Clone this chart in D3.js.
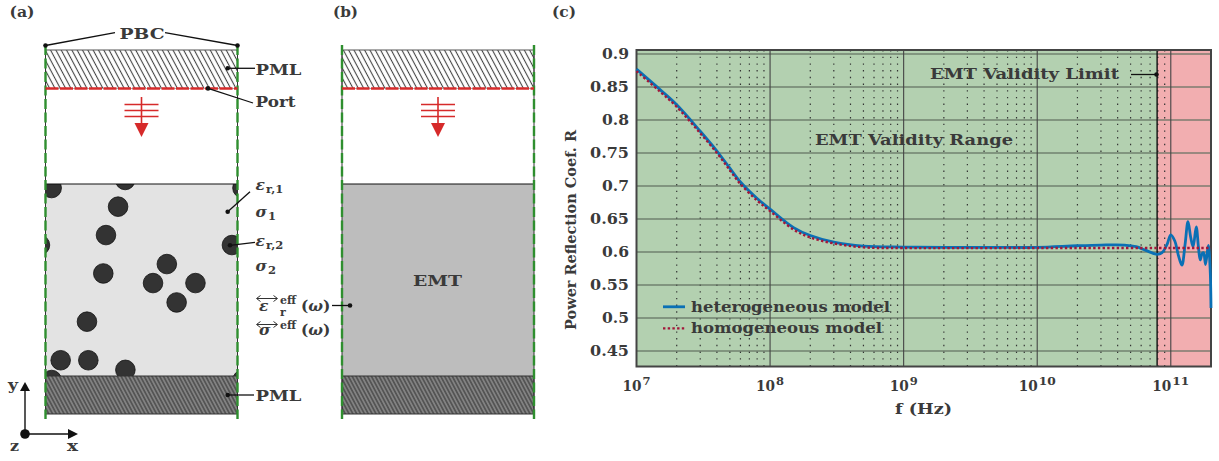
<!DOCTYPE html>
<html><head><meta charset="utf-8">
<script src="https://cdn.jsdelivr.net/npm/d3@7"></script>
<style>
html,body{margin:0;padding:0;background:#fff;overflow:hidden}
svg{display:block}
text{font-family:"DejaVu Serif",serif;font-weight:700;fill:#3a3a3a}
</style></head><body><svg id="c" width="1219" height="461"></svg>
<script>
// ---- panel (c) data ----
const freqHz = [1e7,1.5e7,2e7,3e7,4e7,5e7,6e7,8e7,1e8,1.5e8,2e8,3e8,5e8,1e9,2e9,5e9,1e10,2e10,3e10,4.5e10,5.5e10,6.5e10,7.9e10,8.6e10,9.4e10,1e11,1.07e11,1.14e11,1.21e11,1.28e11,1.345e11,1.41e11,1.47e11,1.55e11,1.61e11,1.66e11,1.72e11,1.76e11,1.82e11,1.91e11,1.97e11,2e11];
const heteroR = [.877,.846,.823,.783,.753,.727,.706,.681,.665,.637,.625,.615,.609,.6075,.607,.607,.607,.6095,.6105,.6105,.608,.6025,.5965,.599,.612,.626,.617,.595,.580,.612,.646,.622,.608,.638,.608,.588,.598,.599,.581,.610,.575,.515];
const homoFreq = [1e7,1.5e7,2e7,3e7,4e7,5e7,6e7,8e7,1e8,1.5e8,2e8,3e8,5e8,1e9,1e10,1e11,2e11];
const homoR = [.874,.843,.820,.780,.750,.724,.703,.678,.662,.634,.622,.613,.607,.606,.606,.606,.606];
const yTicks = [.45,.5,.55,.6,.65,.7,.75,.8,.85,.9];
const xMajor = [1e7,1e8,1e9,1e10,1e11];
const xExponents = ["7","8","9","10","11"];
const validityLimit = 7.9e10;
const legendLabels = ["heterogeneous model","homogeneous model"];
const legendWidths = [199,191];
// ---- panel (a) inclusions: fractions of the medium box ----
const inclusionX = [.032,.415,.378,1.026,.315,-.029,.971,.632,.301,.560,.781,.683,.216,.079,.223,.416,.032,1.026];
const inclusionY = [.021,-.021,.118,.021,.266,.318,.318,.417,.466,.516,.516,.617,.717,.918,.918,.968,1.021,1.021];

const svg = d3.select("#c");
const defs = svg.append("defs");
function hatch(id,bg,stroke,sw,p0){
  const p=defs.append("pattern").attr("id",id).attr("patternUnits","userSpaceOnUse")
    .attr("width",p0).attr("height",p0).attr("patternTransform","rotate(-28)");
  p.append("rect").attr("width",p0).attr("height",p0).attr("fill",bg);
  p.append("line").attr("x1",p0/2).attr("x2",p0/2).attr("y1",0).attr("y2",p0).attr("stroke",stroke).attr("stroke-width",sw);
}
hatch("hTop","#fff","#444",1.1,4.7);
hatch("hBot","#828282","#333",1,3.4);
defs.append("clipPath").attr("id","medClip").append("rect").attr("x",45.5).attr("y",184).attr("width",192).attr("height",192);

const red="#d62a2a", green="#2f8f2f";
function lab(t,x,y,o={}){
  const s=svg.append("text").attr("x",x).attr("y",y).attr("font-size",o.fs||15)
    .attr("text-anchor",o.a||"start").text(t);
  if(o.w) s.attr("textLength",o.w).attr("lengthAdjust","spacingAndGlyphs");
  return s;
}
function lead(x1,y1,x2,y2,dot=true){
  svg.append("line").attr("x1",x1).attr("y1",y1).attr("x2",x2).attr("y2",y2).attr("stroke","#111").attr("stroke-width",1.3);
  if(dot) svg.append("circle").attr("cx",x2).attr("cy",y2).attr("r",2.3).attr("fill","#111");
}
function slab(x0,medFill){
  const x1=x0+192;
  svg.append("rect").attr("x",x0).attr("y",50).attr("width",192).attr("height",38.5).attr("fill","url(#hTop)").attr("stroke","#555").attr("stroke-width",1);
  svg.append("rect").attr("x",x0).attr("y",88.5).attr("width",192).attr("height",95.5).attr("fill","#fff");
  svg.append("rect").attr("x",x0).attr("y",184).attr("width",192).attr("height",192).attr("fill",medFill);
  if(medFill==="#e3e3e3"){
    const sx=d3.scaleLinear().domain([0,1]).range([x0,x1]), sy=d3.scaleLinear().domain([0,1]).range([184,376]);
    svg.append("g").attr("clip-path","url(#medClip)").selectAll("circle").data(inclusionX).join("circle")
      .attr("cx",d=>sx(d)).attr("cy",(d,i)=>sy(inclusionY[i])).attr("r",9.8).attr("fill","#333").attr("stroke","#111").attr("stroke-width",.8);
  }
  svg.append("line").attr("x1",x0).attr("x2",x1).attr("y1",184).attr("y2",184).attr("stroke","#111").attr("stroke-width",1);
  svg.append("rect").attr("x",x0).attr("y",376).attr("width",192).attr("height",38).attr("fill","url(#hBot)").attr("stroke","#333").attr("stroke-width",1);
  [x0,x1].forEach(x=>{
    svg.append("line").attr("x1",x).attr("x2",x).attr("y1",50).attr("y2",414).attr("stroke","#333").attr("stroke-width",1);
    svg.append("line").attr("x1",x).attr("x2",x).attr("y1",45).attr("y2",419).attr("stroke",green).attr("stroke-width",2.4).attr("stroke-dasharray","10 3.5");
  });
  svg.append("line").attr("x1",x0).attr("x2",x1).attr("y1",88.5).attr("y2",88.5).attr("stroke",red).attr("stroke-width",2.6).attr("stroke-dasharray","13 1.5");
  const cx=x0+96;
  svg.append("line").attr("x1",cx).attr("x2",cx).attr("y1",97).attr("y2",125).attr("stroke",red).attr("stroke-width",1.6);
  [104.5,110.5,116.5].forEach(y=>svg.append("line").attr("x1",cx-17).attr("x2",cx+17).attr("y1",y).attr("y2",y).attr("stroke",red).attr("stroke-width",1.6));
  svg.append("path").attr("d",`M${cx-7},123 L${cx+7},123 L${cx},137 Z`).attr("fill",red);
}
slab(45.5,"#e3e3e3");
slab(342,"#bdbdbd");

lab("(a)",9.5,17,{fs:14,w:25});
lab("(b)",333,17,{fs:14,w:25});
lab("(c)",552,17,{fs:14,w:24});
lab("PBC",119.5,39,{fs:15.5,w:45});
lead(115,32.7,45.5,45.5); lead(165,32.7,237.5,45.5);
lab("PML",255.5,75,{fs:15.5,w:46});
lead(255,68.3,227.7,68.3);
lab("Port",255.5,107,{fs:15.5,w:40});
lead(253,103,208,88.4);
lab("EMT",413,286,{fs:15.5,w:49});
lab("PML",255.5,401,{fs:15.5,w:46});
lead(254,395,227.7,395);
function sub(x,y,sym,s){
  const t=svg.append("text").attr("x",x).attr("y",y).attr("font-size",15.5);
  t.append("tspan").attr("font-style","italic").text(sym);
  t.append("tspan").attr("dy",3).attr("font-size",11.5).attr("dx",1).text(s);
}
sub(255.5,190,"ε","r,1"); lead(250,191.7,227.7,211.7);
sub(255.5,217,"σ","1");
sub(255.5,246,"ε","r,2"); lead(255,242.3,230,245.3);
sub(255.5,271,"σ","2");
function tensor(x,y,sym,s){
  const t=svg.append("text").attr("x",x+3).attr("y",y).attr("font-size",15.5);
  t.append("tspan").attr("font-style","italic").text(sym);
  svg.append("text").attr("x",x+24).attr("y",y-(s?7:6)).attr("font-size",11).text("eff");
  if(s) svg.append("text").attr("x",x+24).attr("y",y+5).attr("font-size",11).text(s);
  const u=svg.append("text").attr("x",x+45).attr("y",y).attr("font-size",15.5);
  u.append("tspan").text("(");
  u.append("tspan").attr("font-style","italic").text("ω");
  u.append("tspan").text(")");
  const ay=y-(s?12.5:10.5);
  svg.append("line").attr("x1",x+1).attr("x2",x+21).attr("y1",ay).attr("y2",ay).attr("stroke","#333").attr("stroke-width",1);
  svg.append("path").attr("d",`M${x+4.5},${ay-3}L${x+.5},${ay}L${x+4.5},${ay+3}M${x+17.5},${ay-3}L${x+21.5},${ay}L${x+17.5},${ay+3}`).attr("fill","none").attr("stroke","#333");
}
tensor(256,311,"ε","r");
tensor(256,335,"σ");
lead(332,305.5,350,305.5);
function arrow(x1,y1,x2,y2){
  svg.append("line").attr("x1",x1).attr("y1",y1).attr("x2",x2).attr("y2",y2).attr("stroke","#111").attr("stroke-width",1.4);
}
arrow(25,434,25,386); svg.append("path").attr("d","M20,391L30,391L25,382Z").attr("fill","#111");
arrow(25,434,72,434); svg.append("path").attr("d","M68,429L68,439L78,434Z").attr("fill","#111");
svg.append("circle").attr("cx",25).attr("cy",434).attr("r",4.8).attr("fill","#111");
lab("y",8,390,{fs:15,w:10}); lab("z",10,451,{fs:15,w:9}); lab("x",67,451,{fs:15,w:11});

// ---- panel (c) ----
const L=636.5,R=1211,T=50,B=366.5;
const x=d3.scaleLog().domain([1e7,2e11]).range([L,R]);
const y=d3.scaleLinear().domain([.45,.9]).range([351,54]);
const g=svg.append("g");
g.append("rect").attr("x",L).attr("y",T).attr("width",x(validityLimit)-L).attr("height",B-T).attr("fill","#b3d0b0");
g.append("rect").attr("x",x(validityLimit)).attr("y",T).attr("width",R-x(validityLimit)).attr("height",B-T).attr("fill","#f2aeb0");
const minors=[];
xMajor.forEach(d=>{for(let m=2;m<10;m++){const f=d*m;if(f<=2e11)minors.push(f);}});
g.selectAll(".mn").data(minors).join("line").attr("x1",x).attr("x2",x).attr("y1",T).attr("y2",B)
  .attr("stroke","#333").attr("stroke-width",1.2).attr("stroke-dasharray","1.4 5.3");
g.selectAll(".hg").data(yTicks).join("line").attr("x1",L).attr("x2",R).attr("y1",y).attr("y2",y)
  .attr("stroke","#5f6f5f").attr("stroke-opacity",.8).attr("stroke-width",1.4);
g.selectAll(".mj").data(xMajor.slice(1)).join("line").attr("x1",x).attr("x2",x).attr("y1",T).attr("y2",B)
  .attr("stroke","#444").attr("stroke-width",1.1);
g.append("line").attr("x1",x(validityLimit)).attr("x2",x(validityLimit)).attr("y1",T).attr("y2",B).attr("stroke","#111").attr("stroke-width",1.4);
g.append("rect").attr("x",L).attr("y",T).attr("width",R-L).attr("height",B-T).attr("fill","none").attr("stroke","#444").attr("stroke-width",2);

const hLine=d3.line().x(d=>x(d[0])).y(d=>y(d[1])).curve(d3.curveCatmullRom.alpha(.5));
g.append("path").attr("d",hLine(d3.zip(freqHz,heteroR))).attr("fill","none").attr("stroke","#0a70b5").attr("stroke-width",2.8);
g.append("path").attr("d",hLine(d3.zip(homoFreq,homoR))).attr("fill","none").attr("stroke","#a3173a").attr("stroke-width",2.4).attr("stroke-dasharray","2.4 2.3");

yTicks.forEach(v=>{const s=String(v);lab(s,s.length>3?590:602,y(v)+5,{fs:14.5,w:s.length>3?39:27});});
xMajor.forEach((d,i)=>{
  const tw=xExponents[i].length>1?37:28;
  lab("10",x(d)-tw/2,391,{fs:14.5,w:19});
  lab(xExponents[i],x(d)-tw/2+20,385,{fs:10.5,w:tw-20});
});
lab("f (Hz)",895,414,{fs:14.5,w:57});
svg.append("text").attr("transform","translate(576,330) rotate(-90)").attr("font-size",14.5).attr("textLength",200).attr("lengthAdjust","spacingAndGlyphs").text("Power Reflection Coef. R");
lab("EMT Validity Range",815,145,{fs:15,w:198});
lab("EMT Validity Limit",930,79,{fs:15,w:189});
lead(1131,74.5,1156.5,74.5);
legendLabels.forEach((t,i)=>{
  const yy=306.8+i*21.6;
  svg.append("line").attr("x1",663).attr("x2",685).attr("y1",yy).attr("y2",yy)
   .attr("stroke",i?"#a3173a":"#0a70b5").attr("stroke-width",i?2.4:2.8).attr("stroke-dasharray",i?"2.4 2.3":null);
  lab(t,691,yy+5,{fs:14.5,w:legendWidths[i]});
});
</script></body></html>
